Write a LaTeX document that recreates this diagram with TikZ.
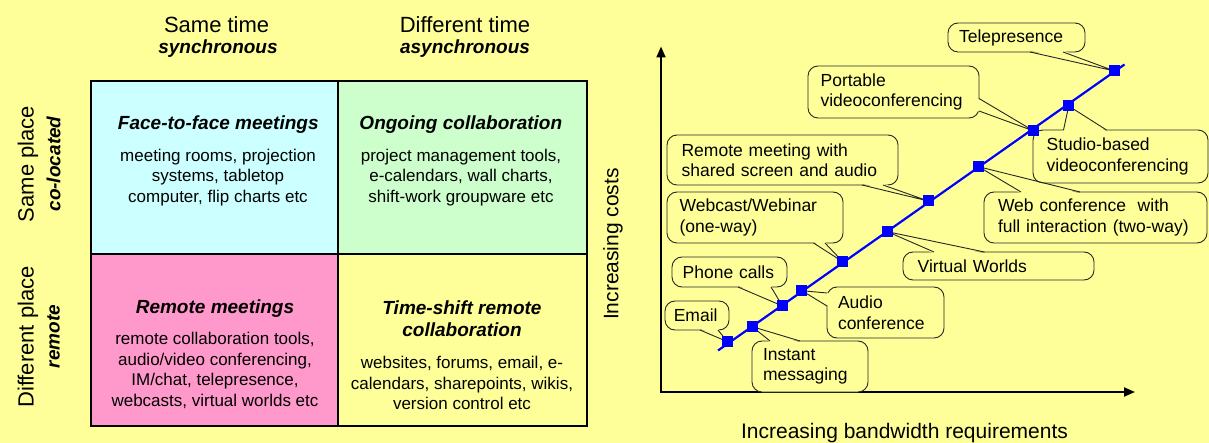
\documentclass[tikz,border=0pt]{standalone}
\usepackage{fontspec}
\setmainfont{Liberation Sans}
\usetikzlibrary{arrows.meta,calc}
\definecolor{bgc}{HTML}{FFFF99}
\definecolor{cyanc}{HTML}{CCFFFF}
\definecolor{greenc}{HTML}{CCFFCC}
\definecolor{pinkc}{HTML}{FF99CC}
\definecolor{bluec}{HTML}{0000FF}
\newcommand\ptr[4]{%
  \fill[bgc] ($#1+#4$) -- (#3) -- ($#2+#4$) -- cycle;
  \draw[wline] #1 -- (#3) -- #2;}
\begin{document}
\begin{tikzpicture}[x=1pt,y=-1pt,
  hdr/.style={font=\fontsize{22}{26}\selectfont, inner sep=0pt},
  hdrsub/.style={font=\fontsize{19}{22}\selectfont\bfseries\itshape, inner sep=0pt},
  cell/.style={draw=black, line width=1.3pt, inner sep=0pt},
  ctitle/.style={font=\fontsize{19}{22}\selectfont\bfseries\itshape, align=center, inner sep=0pt},
  cbody/.style={font=\fontsize{17}{20.5}\selectfont, align=center, inner sep=0pt},
  callout/.style={draw=black!85, line width=0.9pt, fill=bgc, rounded corners=10pt,
    font=\fontsize{17.5}{20.5}\selectfont, align=left, inner ysep=0pt},
  wline/.style={draw=black!85, line width=0.9pt},
  mk/.style={fill=bluec, minimum size=11pt, inner sep=0pt},
  blueln/.style={draw=bluec, line width=2.2pt},
  axis/.style={draw=black, line width=2pt, {Triangle[length=11pt,width=9pt]}-{Triangle[length=11pt,width=9pt]}},
  axlabel/.style={font=\fontsize{21}{25}\selectfont, inner sep=0pt}]

\fill[bgc] (0,0) rectangle (1209,443);
\useasboundingbox (0,0) rectangle (1209,443);

% ---------- left: matrix ----------
\node[hdr] (h1) at (216.6,25) {Same time};
\node[hdrsub] (h1s) at (218,49) {synchronous};
\node[hdr] (h2) at (465,25) {Different time};
\node[hdrsub] (h2s) at (465,49) {asynchronous};

\node[hdr, rotate=90] (r1) at (28,164) {Same place};
\node[hdrsub, rotate=90] (r1s) at (53.6,164) {co-located};
\node[hdr, rotate=90] (r2) at (28,337) {Different place};
\node[hdrsub, rotate=90] (r2s) at (53.6,336.5) {remote};

\node[cell, fill=cyanc, minimum width=247pt, minimum height=173pt] (c11) at (214.5,167.5) {};
\node[cell, fill=greenc, minimum width=249pt, minimum height=173pt] (c12) at (462.5,167.5) {};
\node[cell, fill=pinkc, minimum width=247pt, minimum height=172pt] (c21) at (214.5,340) {};
\node[cell, fill=bgc, minimum width=249pt, minimum height=172pt] (c22) at (462.5,340) {};

\node[ctitle] (t11) at (218.3,124.3) {Face-to-face meetings};
\node[cbody] (b11) at (218,177.5) {meeting rooms, projection\\systems, tabletop\\computer, flip charts etc};
\node[ctitle] (t12) at (460.8,124.3) {Ongoing collaboration};
\node[cbody] (b12) at (461,177.5) {project management tools,\\e-calendars, wall charts,\\shift-work groupware etc};
\node[ctitle] (t21) at (215,308.3) {Remote meetings};
\node[cbody, font=\fontsize{17}{20.8}\selectfont] (b21) at (215,370.5) {remote collaboration tools,\\audio/video conferencing,\\IM/chat, telepresence,\\webcasts, virtual worlds etc};
\node[ctitle] (t22) at (462,319) {Time-shift remote\\collaboration};
\node[cbody, font=\fontsize{17}{20.3}\selectfont] (b22) at (462,383) {websites, forums, email, e-\\calendars, sharepoints, wikis,\\version control etc};

% ---------- right: chart ----------
\coordinate (orig) at (661,392);
\coordinate (ytop) at (661,46.5);
\coordinate (xend) at (1135,392);
\draw[axis] (ytop) -- (orig) -- (xend);
\node[axlabel, rotate=90] (ylab) at (613,244) {Increasing costs};
\node[axlabel] (xlab) at (904.5,433) {Increasing bandwidth requirements};

\coordinate (p1) at (727.4,341.7);
\coordinate (p2) at (752.2,326.7);
\coordinate (p3) at (782.5,306);
\coordinate (p4) at (801.9,290.7);
\coordinate (p5) at (842.7,261.7);
\coordinate (p6) at (887.4,231.7);
\coordinate (p7) at (928.2,201);
\coordinate (p8) at (978.6,166.7);
\coordinate (p9) at (1033.8,131);
\coordinate (p10) at (1068.7,106);
\coordinate (p11) at (1114.6,71);
\coordinate (lstart) at (718,350.5);
\coordinate (lend) at (1124.5,64.5);

% callouts
\node[callout, text width=115pt, inner xsep=11pt, minimum height=29pt] (tele) at (1016.5,37.5) {Telepresence};
\ptr{(1030,52)}{(1063,52)}{p11}{(0,-1.5)}
\node[callout, text width=145.8pt, inner xsep=12.6pt, minimum height=52pt] (port) at (893.5,92) {Portable\\videoconferencing};
\ptr{(979,98.5)}{(979,111)}{p9}{(-1.5,0)}
\node[callout, text width=147.8pt, inner xsep=13.6pt, minimum height=53pt] (studio) at (1120.5,156.5) {Studio-based\\videoconferencing};
\ptr{(1063.5,130)}{(1106.5,130)}{p10}{(0,1.5)}
\node[callout, text width=201.8pt, inner xsep=14.6pt, minimum height=50pt] (remote) at (782.5,160) {Remote meeting with\\shared screen and audio};
\ptr{(862,185)}{(883,185)}{p7}{(0,-1.5)}
\node[callout, text width=195pt, inner xsep=14pt, minimum height=51pt] (webconf) at (1095.5,217.5) {Web conference\ \ with\\full interaction (two-way)};
\ptr{(1021,192)}{(1080,192)}{p8}{(0,1.5)}
\node[callout, text width=150.8pt, inner xsep=12.6pt, minimum height=51pt] (webcast) at (755,217.5) {Webcast/Webinar\\(one-way)};
\ptr{(813.5,243)}{(825,243)}{p5}{(0,-1.5)}
\node[callout, text width=161.6pt, inner xsep=14.7pt, minimum height=28pt] (virtual) at (998.5,266) {Virtual Worlds};
\ptr{(934,252)}{(984.5,252)}{p6}{(0,1.5)}
\node[callout, text width=93.6pt, inner xsep=10.7pt, minimum height=30pt] (phone) at (729.5,272) {Phone calls};
\ptr{(738,287)}{(771,287)}{p3}{(0,-1.5)}
\node[callout, text width=95pt, inner xsep=11pt, minimum height=51pt] (audio) at (885.5,312.5) {Audio\\conference};
\ptr{(827,293)}{(827,306)}{p4}{(1.5,0)}
\node[callout, text width=46.4pt, inner xsep=8.8pt, minimum height=29pt] (email) at (697,315.5) {Email};
\ptr{(700,330)}{(718,330)}{p1}{(0,-1.5)}
\node[callout, text width=94pt, inner xsep=11pt, minimum height=51pt] (instant) at (810,366.5) {Instant\\messaging};
\ptr{(770,341)}{(800,341)}{p2}{(0,1.5)}

% trend line and markers
\draw[blueln] (lstart) -- (lend);
\foreach \i in {1,...,11} {\node[mk] (m\i) at (p\i) {};}

\end{tikzpicture}
\end{document}
